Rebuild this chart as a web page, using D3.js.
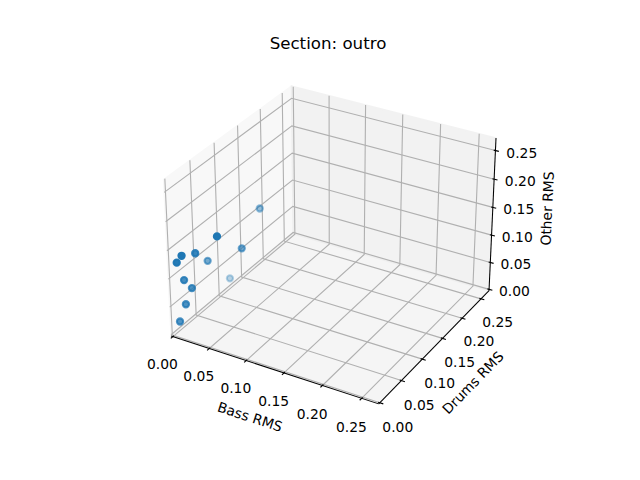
<!DOCTYPE html>
<html>
<head>
<meta charset="utf-8">
<script src="https://cdn.jsdelivr.net/npm/d3@7"></script>
<style>
  body { margin: 0; background: #fff; }
  svg { display: block; font-family: "DejaVu Sans", sans-serif; }
</style>
</head>
<body>
<div id="main"></div>
<script>
const titulo = "Section: outro";
const rotulos = ["Bass RMS", "Drums RMS", "Other RMS"];
const marcas = [0, 0.05, 0.10, 0.15, 0.20, 0.25];

// one point per frame of the section
const bassRms  = [0.025, 0.036, 0.007, 0.010, 0.002, 0.001, 0.032, 0.001, 0.002, 0.009, 0.008, 0.005];
const drumsRms = [0.151, 0.042, 0.012, 0.035, 0.009, 0.073, 0.099, 0.119, 0.022, 0.027, 0.015, 0.006];
const otherRms = [0.134, 0.160, 0.135, 0.125, 0.123, 0.082, 0.099, 0.018, 0.083, 0.068, 0.047, 0.021];

const dot = (a, b) => a[0] * b[0] + a[1] * b[1] + a[2] * b[2];

class GraficoDispersao3D {
  constructor(config) {
    this.config = config;
    this.svg = null;
    this.pontos = [];
    this.createSvg();
    this.createCamera();
  }

  createSvg() {
    this.svg = d3.select(this.config.div)
      .append("svg")
      .attr("width", this.config.width)
      .attr("height", this.config.height);
  }

  createCamera() {
    const rad = Math.PI / 180;
    const el = this.config.elev * rad, az = this.config.azim * rad;
    this.w = [Math.cos(el) * Math.cos(az), Math.cos(el) * Math.sin(az), Math.sin(el)];
    const n = Math.hypot(this.w[0], this.w[1]);
    this.u = [-this.w[1] / n, this.w[0] / n, 0];
    const w = this.w, u = this.u;
    this.v = [w[1] * u[2] - w[2] * u[1], w[2] * u[0] - w[0] * u[2], w[0] * u[1] - w[1] * u[0]];

    // caixa 4:4:3 como no matplotlib
    const k = 1.8294640721620434 * 25 / 24 / Math.hypot(4, 4, 3);
    this.aspecto = [4 * k, 4 * k, 3 * k];
    this.R = this.aspecto.map(d => d / 2);
  }

  createScales() {
    const c = this.config;
    this.escalas = this.aspecto.map(a => d3.scaleLinear().domain(c.lim).range([0, a]));
    this.telaX = d3.scaleLinear().domain([-0.095, 0.09]).range([c.left, c.left + c.size]);
    this.telaY = d3.scaleLinear().domain([-0.095, 0.09]).range([c.top + c.size, c.top]);
  }

  project(p) {
    const q = p.map((d, i) => this.escalas[i](d) - this.R[i]);
    const c = dot(this.w, q);
    const den = this.config.dist - c;
    return [this.telaX(dot(this.u, q) / den), this.telaY(dot(this.v, q) / den), this.config.dist / (c - this.config.dist)];
  }

  loadData() {
    this.pontos = bassRms.map((b, i) => {
      const s = this.project([b, drumsRms[i], otherRms[i]]);
      return { cx: s[0], cy: s[1], vz: s[2] };
    });
  }

  createAxis() {
    const [lo, hi] = this.config.lim;
    const mid = (lo + hi) / 2;
    const delta = (hi - lo) * 0.08;
    const dpp = 48 / (2 * this.config.size / 100 * 72);
    const linha = pts => d3.line()(pts.map(p => this.project(p).slice(0, 2)));
    const g = this.svg.append("g");

    const panes = [
      { cor: "rgb(242,242,242)", pts: [[lo, lo, lo], [lo, hi, lo], [lo, hi, hi], [lo, lo, hi]] },
      { cor: "rgb(230,230,230)", pts: [[lo, hi, lo], [hi, hi, lo], [hi, hi, hi], [lo, hi, hi]] },
      { cor: "rgb(236,236,236)", pts: [[lo, lo, lo], [hi, lo, lo], [hi, hi, lo], [lo, hi, lo]] }
    ];
    g.selectAll(".pane")
      .data(panes)
      .join("path")
      .attr("d", d => linha(d.pts) + "Z")
      .attr("fill", d => d.cor)
      .attr("stroke", d => d.cor)
      .attr("stroke-width", 1.39)
      .attr("opacity", 0.5);

    const grades = [
      t => [[t, lo, lo], [t, hi, lo], [t, hi, hi]],
      t => [[lo, t, hi], [lo, t, lo], [hi, t, lo]],
      t => [[hi, hi, t], [lo, hi, t], [lo, lo, t]]
    ];
    grades.forEach(f => {
      g.append("g").selectAll("path")
        .data(marcas)
        .join("path")
        .attr("d", t => linha(f(t)))
        .attr("fill", "none")
        .attr("stroke", "#b0b0b0")
        .attr("stroke-width", 1.11);
    });

    const eixos = [
      { i: 0, edge: [null, lo, lo], tickdir: 1 },
      { i: 1, edge: [hi, null, lo], tickdir: 0 },
      { i: 2, edge: [hi, hi, null], tickdir: 0 }
    ];
    const afasta = (p, i, off) => p.map((d, j) => j === i ? d : d + Math.sign(d - mid) * off);

    eixos.forEach(e => {
      const ga = g.append("g");
      const ponto = t => e.edge.map((d, j) => j === e.i ? t : d);
      ga.append("path")
        .attr("d", linha([ponto(lo), ponto(hi)]))
        .attr("stroke", "black")
        .attr("stroke-width", 1.04);

      const s = Math.sign(e.edge[e.tickdir] - mid);
      ga.selectAll(".tick")
        .data(marcas)
        .join("path")
        .attr("d", t => {
          const a = ponto(t), b = ponto(t);
          a[e.tickdir] += s * 0.2 * delta;
          b[e.tickdir] -= s * 0.1 * delta;
          return linha([a, b]);
        })
        .attr("stroke", "black")
        .attr("stroke-width", 1.11);

      ga.selectAll("text")
        .data(marcas)
        .join("text")
        .each((t, k, nos) => {
          const p = this.project(afasta(ponto(t), e.i, (3.5 + 8) * dpp * delta));
          d3.select(nos[k]).attr("x", p[0]).attr("y", p[1]);
        })
        .attr("dy", "0.76em")
        .attr("text-anchor", "middle")
        .attr("font-size", 13.89)
        .text(t => d3.format(".2f")(t));

      const p1 = this.project(ponto(lo)), p2 = this.project(ponto(hi));
      let ang = Math.atan2(-(p2[1] - p1[1]), p2[0] - p1[0]) * 180 / Math.PI;
      ang = (ang + 180) % 180;
      if (ang > 90) ang -= 180;
      const pl = this.project(afasta(ponto(mid), e.i, (4 + 21) * dpp * delta));
      ga.append("text")
        .attr("transform", `translate(${pl[0]},${pl[1]}) rotate(${-ang})`)
        .attr("dy", "0.26em")
        .attr("text-anchor", "middle")
        .attr("font-size", 13.89)
        .text(rotulos[e.i]);
    });

    this.svg.append("text")
      .attr("x", this.config.left + this.config.size / 2)
      .attr("y", this.config.top - 8.33)
      .attr("text-anchor", "middle")
      .attr("font-size", 16.67)
      .text(titulo);
  }

  renderCircles() {
    const vzExtent = d3.extent(this.pontos, d => d.vz);
    const alfa = d3.scaleLinear().domain(vzExtent).range([1, 0.3]);
    const ordenados = this.pontos.slice().sort((a, b) => b.vz - a.vz);
    this.svg.append("g").selectAll("circle")
      .data(ordenados)
      .join("circle")
      .attr("cx", d => d.cx)
      .attr("cy", d => d.cy)
      .attr("r", 3.11)
      .attr("fill", "#1f77b4")
      .attr("fill-opacity", d => alfa(d.vz))
      .attr("stroke", "#1f77b4")
      .attr("stroke-opacity", d => alfa(d.vz))
      .attr("stroke-width", 2.08);
  }
}

function main() {
  const c = { div: "#main", width: 640, height: 480, left: 143.2, top: 57.6, size: 369.6,
              elev: 30, azim: -60, dist: 10, lim: [-0.0025, 0.2715] };
  const a = new GraficoDispersao3D(c);
  a.createScales();
  a.loadData();
  a.createAxis();
  a.renderCircles();
}

main();
</script>
</body>
</html>
